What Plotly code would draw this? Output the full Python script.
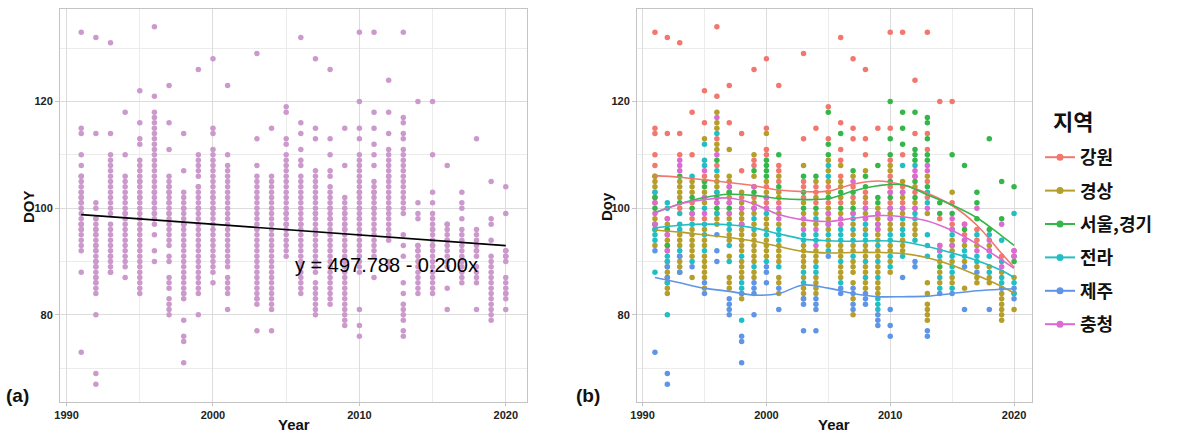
import plotly.graph_objects as go

regions = ["강원", "경상", "서울,경기", "전라", "제주", "충청"]
colors = ["#F2776E", "#B59E2A", "#35B64A", "#22BEC3", "#5E95E6", "#DB6AD2"]
all_color = "#CC99CC"

# DOY values by year for each region
gangwon = {
    1991: [133, 115, 114, 110, 108, 106, 103], 1992: [132, 114, 98, 96], 1993: [131, 114, 110, 100],
    1994: [118, 110, 101, 98], 1995: [122, 116, 106, 98], 1996: [134, 121, 113, 108, 103],
    1997: [123, 116, 104, 101], 1998: [114, 107, 102, 100], 1999: [126, 109, 108, 102],
    2000: [128, 115, 111, 110, 104, 101], 2001: [123, 108, 107, 105, 101], 2003: [129, 113, 105, 104, 102],
    2004: [115, 104, 103, 101], 2005: [119, 113, 104, 101, 99], 2006: [132, 116, 111, 109, 106, 101],
    2007: [128, 115, 113, 104, 102], 2008: [126, 113, 110, 103, 101], 2009: [115, 99, 96],
    2010: [133, 115, 109, 106, 104, 101], 2011: [133, 110, 104, 101], 2012: [124, 114, 106, 103, 100],
    2013: [133, 114, 111, 105, 102], 2014: [120, 98, 93], 2015: [120, 101, 97], 2016: [97, 95],
    2017: [96, 94], 2018: [92], 2019: [91], 2020: [92],
}
gyeongsang = {
    1991: [106, 105, 104, 102, 101, 98, 97, 96, 93], 1992: [97, 95, 94, 93, 92, 90, 89, 88, 87, 86, 85, 84],
    1993: [105, 104, 103, 102, 95, 94, 93, 91, 90, 89, 88], 1994: [105, 104, 103, 96, 95, 94, 93, 92, 91, 87],
    1995: [113, 105, 103, 101, 96, 94, 93, 91, 90, 89, 88, 87, 85],
    1996: [118, 116, 115, 112, 111, 106, 105, 104, 101, 99, 98, 97],
    1997: [111, 106, 105, 103, 102, 99, 98, 95, 94, 91, 87, 86, 85],
    1998: [103, 101, 99, 98, 96, 95, 94, 93, 92, 90, 89, 88, 87, 84, 83],
    1999: [110, 106, 104, 101, 99, 97, 95, 94, 93, 92, 91, 90, 88, 87],
    2000: [114, 105, 103, 100, 98, 97, 96, 94, 93, 92, 91],
    2001: [106, 103, 102, 99, 97, 93, 92, 91, 90, 87, 86, 84],
    2003: [108, 101, 99, 97, 93, 92, 91, 90, 89, 87, 85, 84, 83],
    2004: [105, 102, 99, 97, 92, 91, 90, 87, 86, 85, 84], 2005: [109, 107, 105, 103, 100, 98, 96, 94, 93],
    2006: [108, 105, 104, 102, 99, 97, 93, 92, 91, 89, 88, 87],
    2007: [106, 101, 99, 97, 95, 93, 92, 90, 89, 88, 86, 83, 80],
    2008: [107, 102, 99, 98, 96, 93, 92, 91, 89, 88, 86, 85],
    2009: [100, 98, 95, 94, 92, 91, 89, 88, 86, 85, 84], 2010: [108, 107, 103, 99, 97, 96, 93, 92, 90, 88],
    2011: [105, 102, 99, 97, 94, 93, 92], 2012: [104, 101, 97, 96, 95], 2013: [106, 99, 86, 84, 82, 81, 80, 79],
    2014: [92, 90, 88, 86], 2015: [103, 94, 92, 90, 87, 86], 2016: [93, 90, 85], 2017: [93, 89, 87, 86],
    2018: [93, 89, 87, 86], 2019: [88, 84, 83, 82, 81, 80, 79], 2020: [87, 84, 81],
}
seoul = {
    1991: [100, 102, 97], 1992: [96, 93], 1993: [106, 101], 1994: [102, 100], 1995: [105, 104, 102],
    1996: [109, 102, 100], 1997: [103, 100], 1998: [97], 1999: [107, 103, 100], 2000: [109, 108, 107, 106, 102],
    2001: [110, 104], 2003: [106, 103, 100], 2004: [106, 100], 2005: [118, 112, 110, 102], 2006: [114, 103, 100],
    2007: [107, 103, 100], 2008: [106, 104, 100], 2009: [108, 102, 101, 97], 2010: [120, 113, 110, 105, 102, 100],
    2011: [118, 115, 112, 103, 100], 2012: [118, 111, 110, 109, 105, 102], 2013: [117, 116, 113, 110, 109, 104],
    2014: [101, 99, 89], 2015: [110, 99, 93], 2016: [108, 96], 2017: [103, 101, 98], 2018: [113, 96],
    2019: [105, 98], 2020: [104, 91, 90],
}
jeolla = {
    1991: [103, 96, 95, 94, 88], 1992: [101, 100, 91, 90, 86, 80], 1993: [99, 97, 96, 92], 1994: [106, 99, 97, 90],
    1995: [112, 109, 108, 100, 97, 95, 92], 1996: [114, 107, 103, 99], 1997: [97, 96, 93, 90],
    1998: [97, 91, 86, 85, 79], 1999: [98, 96, 89], 2000: [99, 95, 90], 2001: [96, 95, 94, 89],
    2003: [95, 94, 88, 86], 2004: [98, 95, 94, 89, 88], 2005: [108, 106, 97, 95, 92], 2006: [96, 95, 94, 90, 86],
    2007: [98, 96, 94, 91], 2008: [97, 95, 94, 90, 87], 2009: [93, 90, 87, 83, 82, 81], 2010: [98, 95, 94, 91, 89],
    2011: [108, 98, 96, 95, 91], 2012: [108, 99, 98, 94], 2013: [103, 101, 95, 93, 91], 2014: [91, 87, 85],
    2015: [96, 95, 91, 89, 88, 85], 2016: [94, 92, 91], 2017: [95, 91, 90], 2018: [95, 91, 88],
    2019: [94, 90, 87, 86], 2020: [99, 86, 84],
}
jeju = {
    1991: [92, 73], 1992: [89, 87, 69, 67], 1993: [91, 88], 1994: [89], 1995: [86, 84], 1996: [95, 92, 90],
    1997: [83, 82, 81, 80], 1998: [84, 76, 75, 71], 1999: [86, 85, 84, 80], 2000: [89, 88, 86], 2001: [85, 81],
    2003: [83, 82, 77], 2004: [83, 82, 81, 77], 2005: [91], 2006: [85, 84], 2007: [85, 84, 82, 81],
    2008: [84, 83, 82], 2009: [80, 79, 78], 2010: [81, 78, 76], 2011: [87], 2012: [90, 89], 2013: [77, 76],
    2014: [84], 2015: [84], 2016: [89, 81], 2017: [88], 2018: [81], 2019: [85], 2020: [85, 83],
}
chungcheong = {
    1991: [101, 99, 97], 1992: [98, 95, 92], 1993: [109, 108, 107], 1994: [99], 1995: [107, 102, 99],
    1996: [117, 110, 101], 1997: [104, 101, 99], 1998: [100, 97], 1999: [104, 100], 2000: [102, 100],
    2001: [100, 98], 2003: [98, 96], 2004: [96, 93], 2005: [99, 97], 2006: [98, 97], 2007: [105, 99],
    2008: [100, 98], 2009: [99, 97, 96], 2010: [103, 100, 98], 2011: [103, 100], 2012: [107, 106, 100],
    2013: [108, 107, 100], 2014: [93, 92], 2015: [98, 96, 93], 2016: [97, 94], 2017: [100, 92],
    2018: [94, 92], 2019: [97, 89], 2020: [92, 91],
}
region_data = [gangwon, gyeongsang, seoul, jeolla, jeju, chungcheong]

# smoothed (loess) curves
curve_years = [1991, 1993, 1995, 1997, 1999, 2001, 2003, 2005, 2007, 2009, 2011, 2013, 2015, 2017, 2019, 2020]
curve_gangwon = [106.1, 105.8, 105.3, 104.8, 104.2, 103.4, 103.1, 103.2, 104.5, 105.1, 104.4, 102.8, 100.5, 96.8, 91.5, 88.9]
curve_gyeongsang = [95.9, 95.5, 95.0, 94.5, 93.8, 92.8, 91.9, 91.6, 91.7, 91.7, 91.5, 90.7, 89.3, 87.4, 85.3, 84.1]
curve_seoul = [99.2, 100.8, 102.0, 102.6, 102.4, 101.8, 101.6, 101.8, 103.2, 104.2, 104.4, 102.5, 100.6, 98.2, 94.8, 93.0]
curve_jeolla = [96.3, 96.8, 97.0, 96.9, 96.3, 95.2, 94.2, 93.9, 93.8, 93.9, 93.7, 92.8, 91.6, 90.2, 88.3, 87.0]
curve_jeju = [87.0, 86.0, 85.0, 84.4, 83.7, 84.0, 85.6, 85.0, 84.0, 83.4, 83.4, 83.5, 84.0, 84.5, 84.8, 84.9]
curve_chungcheong = [99.1, 100.8, 101.6, 101.9, 100.8, 98.8, 97.8, 97.5, 98.1, 98.6, 98.4, 97.6, 95.8, 93.3, 90.3, 88.7]
curves = [curve_gangwon, curve_gyeongsang, curve_seoul, curve_jeolla, curve_jeju, curve_chungcheong]

reg_intercept = 497.788
reg_slope = -0.2004
reg_years = [1991, 2020]
eq_label = "y = 497.788 - 0.200x"


def flatten(d):
    xs, ys = [], []
    for yr in sorted(d):
        for v in d[yr]:
            xs.append(yr)
            ys.append(v)
    return xs, ys


fig = go.Figure()

all_x, all_y = [], []
for d in region_data:
    xs, ys = flatten(d)
    all_x += xs
    all_y += ys

fig.add_trace(go.Scatter(x=all_x, y=all_y, mode="markers", marker=dict(color=all_color, size=5.5),
                         showlegend=False, xaxis="x", yaxis="y", hoverinfo="skip"))

fig.add_trace(go.Scatter(x=reg_years, y=[reg_intercept + reg_slope * yr for yr in reg_years], mode="lines",
                         line=dict(color="black", width=1.6), showlegend=False, xaxis="x", yaxis="y"))

for name, d, c in zip(regions, region_data, colors):
    xs, ys = flatten(d)
    fig.add_trace(go.Scatter(x=xs, y=ys, mode="markers", marker=dict(color=c, size=5.5),
                             showlegend=False, xaxis="x2", yaxis="y2", hoverinfo="skip"))
for name, cv, c in zip(regions, curves, colors):
    fig.add_trace(go.Scatter(x=curve_years, y=cv, mode="lines", line=dict(color=c, width=1.6, shape="spline"),
                             showlegend=False, xaxis="x2", yaxis="y2"))
for i, (name, c) in enumerate(zip(regions, colors)):
    fig.add_trace(go.Scatter(x=[None], y=[None], mode="lines+markers", name=name, legendgroup=str(i),
                             line=dict(color=c, width=2), marker=dict(color=c, size=7),
                             xaxis="x2", yaxis="y2"))

tickfont = dict(family="Liberation Sans", size=11, color="#222222", weight="bold")
common_x = dict(range=[1989.55, 2021.45], tick0=1990, dtick=10, showgrid=True, gridcolor="#dcdcdc", gridwidth=1,
                minor=dict(dtick=5, showgrid=True, gridcolor="#ececec", gridwidth=1),
                showline=True, mirror=True, linecolor="#c4c4c4", linewidth=1, zeroline=False,
                ticks="outside", ticklen=3, tickcolor="#c4c4c4", tickfont=tickfont)
common_y = dict(range=[63.65, 137.35], tick0=0, dtick=20, showgrid=True, gridcolor="#dcdcdc", gridwidth=1,
                minor=dict(dtick=10, showgrid=True, gridcolor="#ececec", gridwidth=1),
                showline=True, mirror=True, linecolor="#c4c4c4", linewidth=1, zeroline=False,
                ticks="outside", ticklen=4, tickcolor="#c4c4c4", tickfont=tickfont,
                domain=[1 - 402 / 434, 1 - 9 / 434])

fig.update_layout(
    width=1183, height=434, margin=dict(l=0, r=0, t=0, b=0, autoexpand=False),
    paper_bgcolor="white", plot_bgcolor="white",
    xaxis=dict(domain=[60 / 1183, 527 / 1183], anchor="y", **common_x),
    yaxis=dict(anchor="x", **common_y),
    xaxis2=dict(domain=[637 / 1183, 1032 / 1183], anchor="y2", **common_x),
    yaxis2=dict(anchor="x2", **common_y),
    legend=dict(x=1040 / 1183, y=1 - 139 / 434, xanchor="left", yanchor="top",
                font=dict(family="Noto Sans CJK KR", size=18, color="#111", weight="bold"),
                tracegroupgap=7, bgcolor="rgba(0,0,0,0)"),
    showlegend=True,
)

title_font = dict(family="Liberation Sans", size=15, color="#111", weight="bold")
ann = [
    dict(text=eq_label, x=387 / 1183, y=1 - 265 / 434, font=dict(family="Liberation Sans", size=20, color="black")),
    dict(text="Year", x=293.5 / 1183, y=1 - 424 / 434, font=title_font),
    dict(text="Year", x=834 / 1183, y=1 - 424 / 434, font=title_font),
    dict(text="DOY", x=28 / 1183, y=1 - 207 / 434, textangle=-90, font=title_font),
    dict(text="Doy", x=606 / 1183, y=1 - 207 / 434, textangle=-90, font=title_font),
    dict(text="(a)", x=17 / 1183, y=1 - 395 / 434, font=dict(family="Liberation Sans", size=19, color="#111", weight="bold")),
    dict(text="(b)", x=588 / 1183, y=1 - 395 / 434, font=dict(family="Liberation Sans", size=19, color="#111", weight="bold")),
    dict(text="지역", x=1073 / 1183, y=1 - 120 / 434,
         font=dict(family="Noto Sans CJK KR", size=22, color="#111", weight="bold")),
]
for a in ann:
    fig.add_annotation(xref="paper", yref="paper", showarrow=False, xanchor="center", yanchor="middle", **a)

fig.write_html("out.html", config={"displayModeBar": False},
               post_script="document.body.style.margin='0';document.body.style.padding='0';")
